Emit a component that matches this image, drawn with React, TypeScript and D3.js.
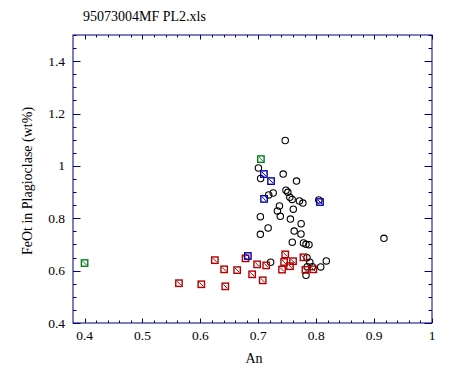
import React from "react";
import * as d3 from "d3";

const title = "95073004MF PL2.xls";
const xLabel = "An";
const yLabel = "FeOt in Plagioclase (wt%)";

const xTicks = [0.4, 0.5, 0.6, 0.7, 0.8, 0.9, 1];
const yTicks = [0.4, 0.6, 0.8, 1, 1.2, 1.4];

// black circles
const circleAn = [
  0.7465, 0.7002, 0.704, 0.743, 0.766, 0.7258, 0.718, 0.7478, 0.751,
  0.7545, 0.7585, 0.771, 0.777, 0.8045, 0.7365, 0.733, 0.7604, 0.738,
  0.7036, 0.7555, 0.774, 0.717, 0.762, 0.7737, 0.7036, 0.7587, 0.778,
  0.7824, 0.7875, 0.917, 0.7213, 0.7841, 0.789, 0.7846, 0.7932, 0.7824,
  0.8078, 0.8175,
];
const circleFeO = [
  1.097, 0.992, 0.952, 0.969, 0.942, 0.8966, 0.889, 0.907, 0.899,
  0.88, 0.872, 0.866, 0.858, 0.87, 0.847, 0.828, 0.8347, 0.8076,
  0.806, 0.797, 0.779, 0.763, 0.751, 0.74, 0.7388, 0.7086, 0.706,
  0.7006, 0.699, 0.7235, 0.632, 0.6495, 0.632, 0.615, 0.615, 0.582,
  0.614, 0.637,
];

// red squares
const redAn = [
  0.563, 0.6016, 0.643, 0.625, 0.641, 0.6635, 0.678, 0.6894, 0.698,
  0.7137, 0.7076, 0.7465, 0.7446, 0.741, 0.76, 0.7547, 0.778, 0.7815, 0.795,
];
const redFeO = [
  0.552, 0.548, 0.54, 0.64, 0.605, 0.602, 0.647, 0.586, 0.624,
  0.62, 0.563, 0.662, 0.633, 0.604, 0.636, 0.617, 0.651, 0.603, 0.605,
];

// blue squares
const blueAn = [0.7097, 0.722, 0.71, 0.8066, 0.682];
const blueFeO = [0.969, 0.942, 0.874, 0.862, 0.656];

// green squares
const greenAn = [0.4, 0.7045];
const greenFeO = [0.629, 1.026];

const W = 452;
const H = 375;
const L = 73;
const R = 432;
const T = 35;
const B = 323;
const AXIS = "#000080";
const FONT = "'Liberation Serif', 'Times New Roman', serif";

export default function App() {
  const x = d3.scaleLinear().domain([0.38, 1.0]).range([L, R]);
  const y = d3.scaleLinear().domain([0.4, 1.5]).range([B, T]);

  const xMinor = d3.range(0, 31).map((i) => 0.4 + i * 0.02);
  const yMinor = d3.range(0, 23).map((i) => 0.4 + i * 0.05);

  const squares = (an: number[], feo: number[], color: string, key: string) =>
    an.map((a, i) => {
      const cx = x(a);
      const cy = y(feo[i]);
      const s = 3.2;
      return (
        <g key={key + i} stroke={color} strokeWidth={1.4} fill="none">
          <rect x={cx - s} y={cy - s} width={2 * s} height={2 * s} />
          <line x1={cx - s + 1.2} y1={cy - s + 1.2} x2={cx + s - 1.2} y2={cy + s - 1.2} strokeWidth={1} />
        </g>
      );
    });

  return (
    <svg width={W} height={H} style={{ position: "absolute", left: 0, top: 0, background: "#fff" }}>
      <rect x={0} y={0} width={W} height={H} fill="#fff" />
      <text x={83} y={21} fontFamily={FONT} fontSize={14} fill="#000">
        {title}
      </text>

      {/* frame */}
      <rect x={L} y={T} width={R - L} height={B - T} fill="none" stroke={AXIS} strokeWidth={1} />

      {/* x ticks bottom & top */}
      {xMinor.map((v, i) => {
        const major = i % 5 === 0;
        const len = major ? 4.5 : 2.5;
        const px = Math.round(x(v)) + 0.5;
        return (
          <g key={"xt" + i} stroke={AXIS} strokeWidth={1}>
            <line x1={px} x2={px} y1={B} y2={B - len} />
            <line x1={px} x2={px} y1={T} y2={T + len} />
          </g>
        );
      })}
      {/* y ticks left & right */}
      {yMinor.map((v, i) => {
        const major = i % 4 === 0;
        const len = major ? 7.5 : 3.5;
        const py = Math.round(y(v)) + 0.5;
        return (
          <g key={"yt" + i} stroke={AXIS} strokeWidth={1}>
            <line x1={L} x2={L + len} y1={py} y2={py} />
            <line x1={R} x2={R - len} y1={py} y2={py} />
          </g>
        );
      })}

      {/* tick labels */}
      {xTicks.map((v) => (
        <text key={"xl" + v} x={x(v)} y={340} textAnchor="middle" fontFamily={FONT} fontSize={13.5} fill="#000">
          {d3.format("")(v)}
        </text>
      ))}
      {yTicks.map((v) => (
        <text key={"yl" + v} x={65} y={y(v) + 4.5} textAnchor="end" fontFamily={FONT} fontSize={13.5} fill="#000">
          {d3.format("")(v)}
        </text>
      ))}

      {/* axis labels */}
      <text x={254} y={363} textAnchor="middle" fontFamily={FONT} fontSize={14} fill="#000">
        {xLabel}
      </text>
      <text
        transform={`translate(32, ${(T + B) / 2 + 2}) rotate(-90)`}
        textAnchor="middle"
        fontFamily={FONT}
        fontSize={14}
        fill="#000"
      >
        {yLabel}
      </text>

      {/* circles */}
      {circleAn.map((a, i) => (
        <circle key={"c" + i} cx={x(a)} cy={y(circleFeO[i])} r={3.2} fill="none" stroke="#000" strokeWidth={1.1} />
      ))}
      {squares(redAn, redFeO, "#b00000", "r")}
      {squares(blueAn, blueFeO, "#0000b0", "b")}
      {squares(greenAn, greenFeO, "#00801a", "g")}
    </svg>
  );
}
